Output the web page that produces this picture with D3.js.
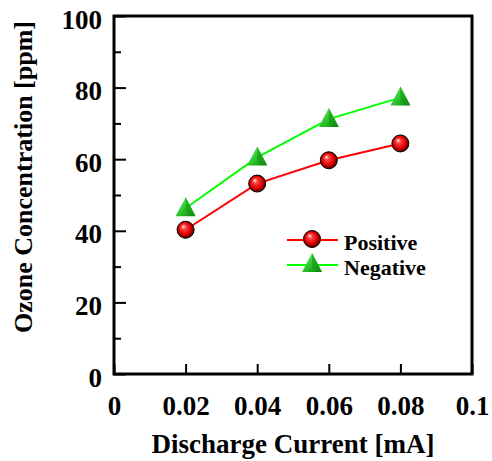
<!DOCTYPE html>
<html>
<head>
<meta charset="utf-8">
<script src="https://cdn.jsdelivr.net/npm/d3@7"></script>
<style>
  body { margin: 0; background: #fff; }
  text { font-family: "Liberation Serif", "Times New Roman", serif; font-weight: bold; }
</style>
</head>
<body>
<div id="chart"></div>
<script>
const current = [0.02, 0.04, 0.06, 0.08];
const positive = [40.3, 53.2, 59.7, 64.4];
const negative = [46.3, 60.5, 71.2, 77.2];
const xTicks = [0, 0.02, 0.04, 0.06, 0.08, 0.1];
const xTickLabels = ["0", "0.02", "0.04", "0.06", "0.08", "0.1"];
const yTicks = [0, 20, 40, 60, 80, 100];
const yMinorTicks = [10, 30, 50, 70, 90];
const seriesNames = ["Positive", "Negative"];

const width = 492, height = 461;
const margin = {left: 114, right: 20, top: 16, bottom: 87};

const svg = d3.select("#chart").append("svg")
    .attr("width", width)
    .attr("height", height);

const x = d3.scaleLinear()
    .domain([0, 0.1])
    .range([margin.left, width - margin.right]);
const y = d3.scaleLinear()
    .domain([0, 100])
    .range([height - margin.bottom, margin.top]);

// gradients for the markers
const defs = svg.append("defs");
const ball = defs.append("radialGradient")
    .attr("id", "ball")
    .attr("cx", "50%").attr("cy", "50%").attr("r", "55%")
    .attr("fx", "35%").attr("fy", "30%");
ball.append("stop").attr("offset", "0%").attr("stop-color", "#ffffff");
ball.append("stop").attr("offset", "25%").attr("stop-color", "#ff4040");
ball.append("stop").attr("offset", "65%").attr("stop-color", "#e00000");
ball.append("stop").attr("offset", "90%").attr("stop-color", "#600000");
ball.append("stop").attr("offset", "100%").attr("stop-color", "#000000");

const tri = defs.append("linearGradient")
    .attr("id", "tri")
    .attr("x1", "0%").attr("y1", "0%").attr("x2", "100%").attr("y2", "100%");
tri.append("stop").attr("offset", "0%").attr("stop-color", "#7af07a");
tri.append("stop").attr("offset", "50%").attr("stop-color", "#2fc82f");
tri.append("stop").attr("offset", "100%").attr("stop-color", "#0a7a0a");

// y axis (ticks pointing inward)
const yAxis = svg.append("g")
    .attr("transform", `translate(${margin.left},0)`)
    .call(d3.axisLeft(y).tickValues(yTicks).tickSizeInner(-12).tickSizeOuter(0).tickPadding(12));
yAxis.select(".domain").remove();
yAxis.selectAll(".tick line").attr("stroke-width", 2);
yAxis.selectAll(".tick text")
    .attr("font-size", 27)
    .attr("font-family", "Liberation Serif")
    .attr("dy", "0.45em");

const yMinor = svg.append("g")
    .attr("transform", `translate(${margin.left},0)`)
    .call(d3.axisLeft(y).tickValues(yMinorTicks).tickSizeInner(-7).tickSizeOuter(0).tickFormat(""));
yMinor.select(".domain").remove();
yMinor.selectAll(".tick line").attr("stroke-width", 2);

// x axis
const xAxis = svg.append("g")
    .attr("transform", `translate(0,${height - margin.bottom})`)
    .call(d3.axisBottom(x).tickValues(xTicks).tickSizeInner(-10).tickSizeOuter(0).tickPadding(22)
        .tickFormat((d, i) => xTickLabels[i]));
xAxis.select(".domain").remove();
xAxis.selectAll(".tick line").attr("stroke-width", 2);
xAxis.selectAll(".tick text")
    .attr("font-size", 27)
    .attr("font-family", "Liberation Serif");

// frame
svg.append("rect")
    .attr("x", x(0))
    .attr("y", y(100))
    .attr("width", x(0.1) - x(0))
    .attr("height", y(0) - y(100))
    .attr("fill", "none")
    .attr("stroke", "black")
    .attr("stroke-width", 3);

// axis titles
svg.append("text")
    .attr("x", (x(0) + x(0.1)) / 2)
    .attr("y", 453)
    .attr("text-anchor", "middle")
    .attr("font-size", 27)
    .text("Discharge Current [mA]");

svg.append("text")
    .attr("transform", "translate(32,177) rotate(-90)")
    .attr("text-anchor", "middle")
    .attr("font-size", 26)
    .text("Ozone Concentration [ppm]");

// lines
const line = d3.line()
    .x((d, i) => x(current[i]))
    .y(d => y(d));

svg.append("path")
    .datum(positive)
    .attr("d", line)
    .attr("fill", "none")
    .attr("stroke", "#ff0000")
    .attr("stroke-width", 2);

svg.append("path")
    .datum(negative)
    .attr("d", line)
    .attr("fill", "none")
    .attr("stroke", "#00ff00")
    .attr("stroke-width", 2);

function drawBall(g, cx, cy) {
    g.append("circle")
        .attr("cx", cx)
        .attr("cy", cy)
        .attr("r", 8.5)
        .attr("fill", "url(#ball)")
        .attr("stroke", "#000")
        .attr("stroke-width", 1);
}

function drawTri(g, cx, cy) {
    g.append("path")
        .attr("d", `M${cx},${cy - 11}L${cx + 10},${cy + 8}L${cx - 10},${cy + 8}Z`)
        .attr("fill", "url(#tri)");
    g.append("path")
        .attr("d", `M${cx},${cy - 11}L${cx + 10},${cy + 8}L${cx},${cy + 4}Z`)
        .attr("fill", "#129a12")
        .attr("opacity", 0.6);
}

const markers = svg.append("g");
negative.forEach((d, i) => drawTri(markers, x(current[i]), y(d)));
positive.forEach((d, i) => drawBall(markers, x(current[i]), y(d)));

// legend
const legend = svg.append("g");
const legendY = [240, 265];
const legendColors = ["#ff0000", "#00ff00"];
seriesNames.forEach((name, i) => {
    legend.append("line")
        .attr("x1", 287).attr("x2", 338)
        .attr("y1", legendY[i]).attr("y2", legendY[i])
        .attr("stroke", legendColors[i])
        .attr("stroke-width", 2);
    if (i === 0) drawBall(legend, 312, legendY[i] - 1);
    else drawTri(legend, 312, legendY[i] - 1);
    legend.append("text")
        .attr("x", 344)
        .attr("y", legendY[i] + 10)
        .attr("font-size", 22)
        .text(name);
});
</script>
</body>
</html>
